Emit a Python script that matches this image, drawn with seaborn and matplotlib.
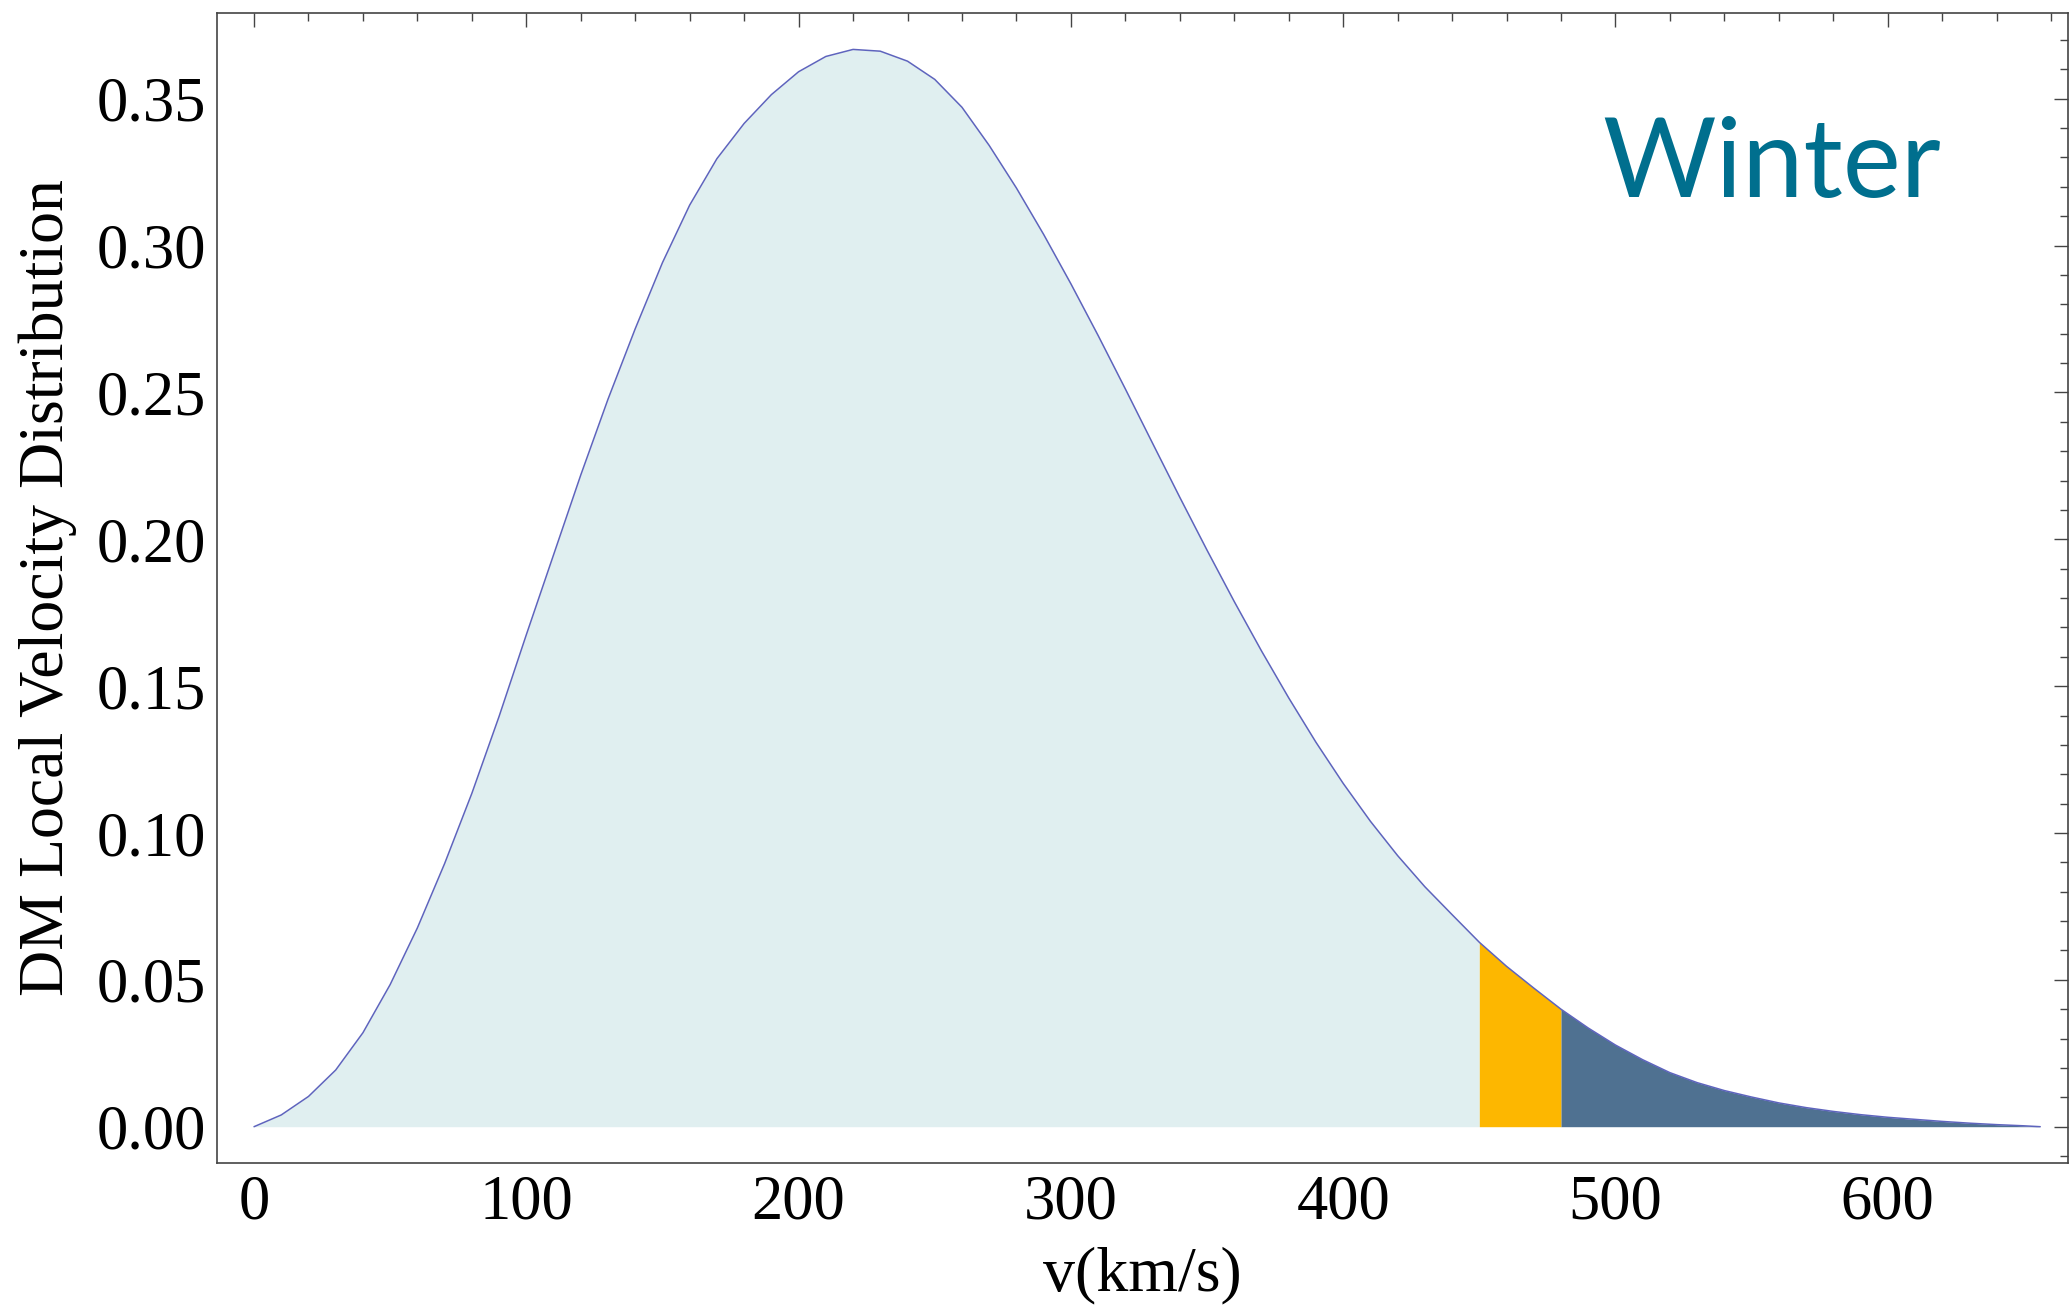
import numpy as np
import matplotlib.pyplot as plt
import seaborn as sns
from matplotlib.ticker import MultipleLocator

# values
v = [0, 10, 20, 30, 40, 50, 60, 70, 80, 90, 100, 110, 120, 130, 140, 150,
     160, 170, 180, 190, 200, 210, 220, 230, 240, 250, 260, 270, 280, 290,
     300, 310, 320, 330, 340, 350, 360, 370, 380, 390, 400, 410, 420, 430,
     440, 450, 460, 470, 480, 490, 500, 510, 520, 530, 540, 550, 560, 570,
     580, 590, 600, 610, 620, 630, 640, 650, 656]
f = [0.0, 0.0040, 0.0103, 0.0193, 0.0320, 0.0484, 0.0677, 0.0896, 0.1135,
     0.1397, 0.1675, 0.1947, 0.2219, 0.2477, 0.2717, 0.2942, 0.3138, 0.3296,
     0.3416, 0.3514, 0.3592, 0.3644, 0.3668, 0.3662, 0.3628, 0.3566, 0.3471,
     0.3341, 0.3196, 0.3038, 0.2870, 0.2694, 0.2512, 0.2327, 0.2143, 0.1963,
     0.1788, 0.1620, 0.1460, 0.1309, 0.1169, 0.1040, 0.0923, 0.0817, 0.0722,
     0.0628, 0.0546, 0.0472, 0.0400, 0.0336, 0.0278, 0.0228, 0.0184, 0.0150,
     0.0123, 0.0101, 0.0081, 0.0065, 0.0052, 0.0041, 0.0032, 0.0025, 0.0018,
     0.0012, 0.0007, 0.0003, 0.0]
band_lo = 450
band_hi = 480
season = "Winter"

v = np.array(v)
f = np.array(f)

sns.set_style("white")
plt.rcParams['font.family'] = ['Liberation Serif', 'DejaVu Serif']
plt.rcParams['text.color'] = 'black'
plt.rcParams['axes.labelcolor'] = 'black'

fig = plt.figure(figsize=(20.72, 13.11), dpi=100)
ax = fig.add_axes([217/2072, 1-1163/1311, (2068-217)/2072, (1163-13)/1311])

# shaded regions
ax.fill_between(v, 0, f, where=v <= band_lo, color='#e0eff0', lw=0)
ax.fill_between(v, 0, f, where=(v >= band_lo) & (v <= band_hi), color='#fdb700', lw=0)
ax.fill_between(v, 0, f, where=v >= band_hi, color='#4f7191', lw=0)

sns.lineplot(x=v, y=f, ax=ax, color='#5e64bd', lw=1.1)

ax.set_xlim(-13.6, 666.2)
ax.set_ylim(-0.01236, 0.3792)
ax.xaxis.set_major_locator(MultipleLocator(100))
ax.xaxis.set_minor_locator(MultipleLocator(20))
ax.yaxis.set_major_locator(MultipleLocator(0.05))
ax.yaxis.set_minor_locator(MultipleLocator(0.01))
ax.yaxis.set_major_formatter(plt.FuncFormatter(lambda x, p: f"{x:.2f}"))

ax.tick_params(which='both', direction='in', top=True, right=True,
               color='#444444', width=1.0, labelsize=45, labelcolor='black')
ax.tick_params(which='major', length=10, pad=8)
ax.tick_params(which='minor', length=6)
for s in ax.spines.values():
    s.set_color('#444444')
    s.set_linewidth(1.2)

ax.set_xlabel("v(km/s)", fontsize=46, labelpad=10)
ax.set_ylabel("DM Local Velocity Distribution", fontsize=46, labelpad=14)

ax.text(495, 0.3166, season, fontsize=79, color='#006f8e',
        family=['Lato', 'DejaVu Sans'], ha='left', va='baseline')

fig.savefig("out.png", dpi=100)
